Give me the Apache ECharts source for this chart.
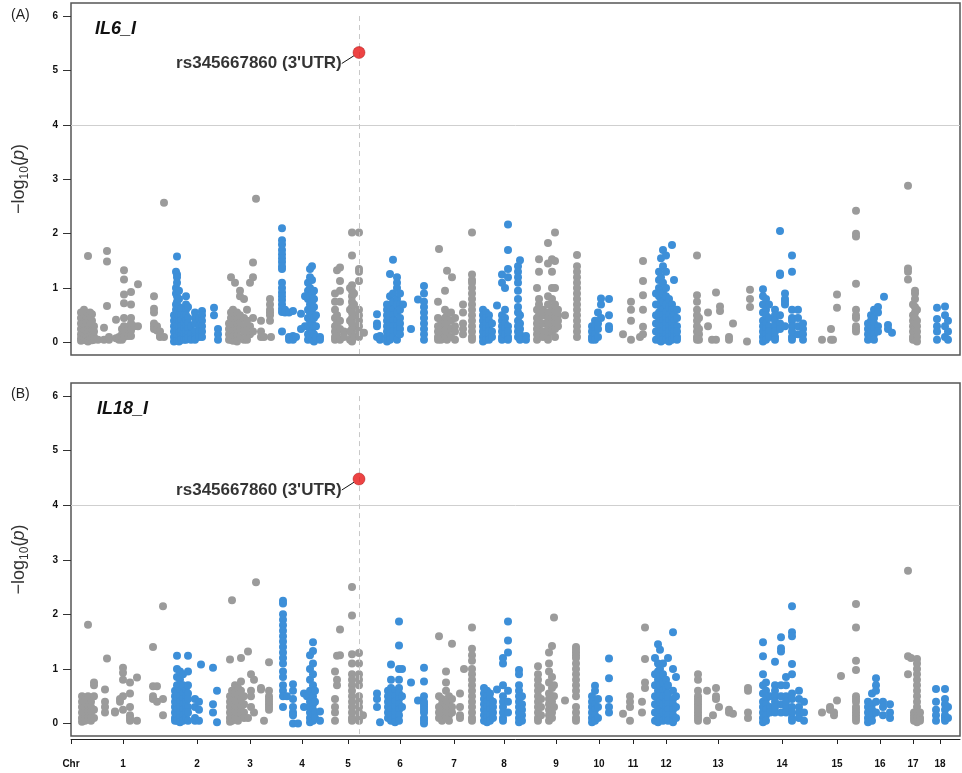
<!DOCTYPE html>
<html>
<head>
<meta charset="utf-8">
<script src="https://cdn.jsdelivr.net/npm/echarts@6/dist/echarts.min.js"></script>
<style>
  html, body { margin: 0; padding: 0; background: #fff; }
  #chart { width: 962px; height: 773px; }
</style>
</head>
<body>
<div id="chart"></div>
<script>
// chromosome layout (Mb)
var chrNames = ['1','2','3','4','5','6','7','8','9','10','11','12','13','14','15','16','17','18'];
var chrLen = [282,162,156,156,120,192,132,168,144,114,90,108,204,180,150,108,90,72];
var xMin = -15, xMax = 2652;
var yTicks = [0, 1, 2, 3, 4, 5, 6];
var threshold = 4;

// top SNP
var topSnpName = "rs345667860 (3'UTR)";
var topSnpChr = 5, topSnpPos = 93;
var topIL6 = 5.33, topIL18 = 4.48;

// IL6_I : per chromosome, [position (Mb), [-log10(p) of SNPs there]]
var il6Cols = [
  [[15,[0.55,0.45,0.35,0.25,0.15,0.08,0.03]],[24,[0.6,0.5,0.4,0.3,0.2,0.12,0.05]],[30,[0.45,0.35,0.28,0.18,0.1,0.04]],
   [36,[1.59,0.5,0.42,0.3,0.22,0.15,0.08,0.02]],[42,[0.55,0.48,0.36,0.26,0.16,0.1,0.05]],[48,[0.52,0.4,0.3,0.2,0.12,0.04]],
   [54,[0.3,0.2,0.1,0.05]],[66,[0.05]],[84,[0.27,0.05]],[93,[1.68,1.49,0.67]],[99,[0.05,0.1]],[120,[0.42,0.08]],
   [129,[0.1,0.05]],[138,[0.25,0.15,0.05]],[144,[1.33,1.16,0.88,0.72,0.45,0.3,0.2,0.1]],[156,[0.28,0.12]],
   [165,[0.93,0.7,0.45,0.35,0.22,0.12]],[174,[0.3]],[186,[1.07,0.3]],[234,[0.85,0.62,0.55,0.35,0.3,0.25]],
   [243,[0.3,0.22]],[252,[0.2,0.12,0.1]],[264,[2.57,0.1]]],
  [[12,[0.5,0.4,0.3,0.2,0.1,0.02]],[18,[1.3,1.0,0.9,0.7,0.6,0.5,0.45,0.35,0.25,0.15,0.05]],
   [21,[1.58,1.25,1.2,1.1,0.85,0.75,0.55,0.4,0.3,0.2,0.1,0.03]],[27,[0.95,0.8,0.65,0.5,0.38,0.28,0.18,0.08,0.02]],
   [33,[0.62,0.5,0.4,0.3,0.2,0.12,0.05]],[42,[0.5,0.35,0.25,0.15,0.05]],[48,[0.85,0.7,0.6,0.5,0.4,0.3,0.2,0.1,0.05]],
   [54,[0.65,0.45,0.35,0.25,0.15,0.08]],[63,[0.3,0.15,0.05]],[75,[0.55,0.45,0.35,0.2,0.1,0.05]],[87,[0.45,0.3,0.2,0.1]],
   [96,[0.58,0.5,0.4,0.3,0.2,0.1]],[132,[0.64,0.5]],[144,[0.25,0.15,0.05]]],
  [[15,[0.35,0.25,0.15,0.05]],[21,[1.2,0.55,0.45,0.35,0.25,0.15,0.05]],[27,[0.6,0.5,0.4,0.3,0.2,0.1,0.03]],
   [33,[1.1,0.48,0.38,0.28,0.18,0.08]],[39,[0.55,0.42,0.32,0.22,0.12,0.02]],[48,[0.95,0.85,0.5,0.35,0.25,0.1]],
   [60,[0.8,0.45,0.3,0.2,0.05]],[69,[0.6,0.4,0.28,0.15,0.05]],[78,[1.1,0.3,0.15]],[87,[1.47,1.2,0.45,0.2]],
   [96,[2.64]],[111,[0.4,0.2,0.1]],[120,[0.1]],[138,[0.8,0.7,0.6,0.55,0.5,0.4]],[141,[0.1]]],
  [[18,[2.1,1.88,1.8,1.7,1.62,1.55,1.48,1.4,1.35,1.1,1.0,0.92,0.85,0.78,0.7,0.62,0.56,0.2]],[27,[0.6,0.55]],
   [39,[0.55,0.1,0.05]],[51,[0.58,0.12,0.05]],[60,[0.1]],[75,[0.53,0.25]],[87,[0.85,0.3]],
   [96,[1.1,0.95,0.8,0.6,0.45,0.3,0.15,0.05]],[102,[1.35,1.2,1.0,0.85,0.7,0.55,0.4,0.25,0.1]],
   [108,[1.4,1.15,0.9,0.75,0.6,0.5,0.35,0.2,0.05]],[114,[0.95,0.8,0.65,0.45,0.3,0.15,0.02]],[120,[0.5,0.3,0.1]],
   [132,[0.1,0.05]]],
  [[21,[0.9,0.75,0.6,0.45,0.3,0.2,0.1,0.05]],[27,[1.33,0.5,0.35,0.15]],[36,[1.38,1.13,0.95,0.75,0.4,0.25,0.05]],
   [48,[0.2,0.1]],[66,[1.0,0.6,0.4,0.2,0.05]],[72,[2.02,1.6,1.05,0.95,0.85,0.75,0.65,0.55,0.45,0.35,0.25,0.15,0.05,0.02]],
   [78,[0.9,0.7,0.5,0.3,0.1]],[93,[2.02,1.35,1.3,1.13,0.6,0.5,0.4,0.3,0.2,0.1]],[108,[0.18]]],
  [[27,[0.52,0.35,0.3,0.1]],[36,[0.12,0.05]],[57,[0.7,0.6,0.5,0.4,0.3,0.2,0.1,0.02]],
   [66,[1.26,0.85,0.65,0.55,0.45,0.35,0.25,0.15,0.05]],[75,[1.52,0.9,0.75,0.6,0.5,0.4,0.3,0.2,0.1]],
   [87,[1.2,1.1,1.0,0.8,0.7,0.55,0.4,0.3,0.2,0.05]],[96,[0.9,0.7,0.6,0.45,0.35,0.25,0.15]],[105,[0.7]],
   [129,[0.25]],[150,[0.79]],[168,[1.04,0.9,0.75,0.65,0.55,0.45,0.35,0.25,0.15,0.05]]],
  [[18,[0.75,0.45,0.3,0.2,0.1,0.05]],[21,[1.72]],[27,[0.4,0.3,0.25,0.15,0.05]],[39,[0.95,0.6,0.45,0.35,0.2,0.1]],
   [45,[1.32,0.5,0.4,0.3,0.15,0.05]],[57,[0.55,0.4,0.25,0.1]],[60,[1.2]],[69,[0.45,0.3,0.2,0.05]],
   [93,[0.7,0.55,0.35,0.25,0.15]],[120,[2.02,1.25,1.15,1.1,1.0,0.9,0.8,0.7,0.6,0.5,0.4,0.3,0.2,0.1,0.05]]],
  [[21,[0.6,0.5,0.4,0.3,0.2,0.1,0.02]],[30,[0.55,0.45,0.35,0.25,0.15,0.05]],[39,[0.5,0.4,0.3,0.2,0.1,0.05]],
   [48,[0.35,0.2,0.1]],[63,[0.68]],[78,[1.25,1.1,0.5,0.4,0.3,0.2,0.1,0.05]],[87,[1.0,0.6,0.45,0.35,0.25,0.15]],
   [96,[2.17,1.7,1.35,1.2,0.3,0.2,0.1,0.05]],[126,[1.4,1.3,1.2,1.1,0.95,0.8,0.65,0.55,0.4,0.3,0.2,0.1]],
   [132,[1.51,0.5,0.35,0.25,0.15,0.05]],[150,[0.12,0.05]]],
  [[15,[1.0,0.6,0.45,0.35,0.25,0.15,0.05]],[21,[1.53,1.3,0.8,0.7,0.5,0.4,0.3,0.2,0.1]],[33,[0.6,0.5,0.35,0.2,0.1]],
   [48,[1.83,1.45,0.85,0.7,0.55,0.45,0.35,0.25,0.15,0.05]],[60,[1.53,1.3,1.0,0.8,0.6,0.5,0.4,0.3,0.2]],
   [69,[2.02,1.5,1.0,0.7,0.55,0.45,0.35,0.25,0.1]],[78,[0.6,0.5,0.4,0.3]],[99,[0.5]],
   [135,[1.61,1.4,1.3,1.2,1.1,1.0,0.9,0.8,0.7,0.6,0.5,0.4,0.3,0.2,0.1]]],
  [[36,[0.3,0.2,0.1,0.05]],[45,[0.4,0.3,0.2,0.15,0.05]],[54,[0.55,0.35,0.25,0.1]],[63,[0.81,0.7,0.45]],
   [87,[0.8,0.5,0.3,0.25]]],
  [[15,[0.15]],[39,[0.75,0.6,0.4,0.05]],[66,[0.1]],[75,[1.5,1.13,0.87,0.6,0.29,0.15]]],
  [[24,[0.9,0.7,0.5,0.35,0.2,0.05]],[33,[1.3,1.15,1.0,0.85,0.7,0.55,0.45,0.35,0.25,0.15,0.05]],
   [39,[1.55,1.2,0.95,0.8,0.65,0.5,0.4,0.3,0.2,0.1,0.02]],[45,[1.7,1.4,1.1,0.9,0.75,0.6,0.5,0.4,0.3,0.2,0.1,0.05]],
   [54,[1.6,1.3,1.0,0.85,0.7,0.55,0.45,0.35,0.25,0.15,0.05]],[63,[0.8,0.65,0.5,0.4,0.3,0.2,0.1,0.02]],
   [72,[1.79,0.7,0.6,0.45,0.35,0.25,0.15,0.05]],[78,[1.15,0.6,0.5,0.4,0.3,0.2,0.1]],[87,[0.6,0.45,0.3,0.2,0.1,0.05]]],
  [[39,[1.6,0.87,0.75,0.6,0.5,0.4,0.3,0.2,0.1,0.05]],[45,[0.45,0.25,0.15,0.05]],[72,[0.55,0.3]],[84,[0.05]],
   [96,[0.92,0.05]],[108,[0.66,0.58]],[135,[0.1,0.05]],[147,[0.35]],[189,[0.02]],[198,[0.97,0.8,0.65]]],
  [[33,[0.98,0.85,0.7,0.55,0.4,0.3,0.2,0.1,0.02]],[42,[0.8,0.6,0.5,0.35,0.25,0.15,0.05]],[51,[0.7,0.45,0.3,0.2,0.1]],
   [69,[0.6,0.5,0.4,0.3,0.2,0.1,0.05]],[84,[2.05,1.27,1.24,0.5,0.35,0.25]],[99,[0.9,0.8,0.75,0.7,0.3]],
   [120,[1.6,1.3,0.6,0.45,0.4,0.3,0.2,0.1,0.05]],[138,[0.6,0.45,0.3,0.15]],[153,[0.35,0.25,0.15,0.05]]],
  [[30,[0.05]],[57,[0.25,0.05]],[63,[0.05]],[75,[0.88,0.64]],[132,[2.42,2.0,1.95,1.08,0.6,0.5,0.45,0.3,0.25,0.2]]],
  [[18,[0.35,0.25,0.15,0.05]],[27,[0.5,0.4,0.3,0.2,0.1]],[36,[0.6,0.45,0.35,0.25,0.15,0.05]],[48,[0.65,0.55,0.3,0.2]],
   [66,[0.84]],[78,[0.32,0.25]],[90,[0.18]]],
  [[30,[2.88,1.36,1.3,1.16]],[45,[0.7,0.5,0.4,0.3,0.2,0.1,0.05]],[51,[0.95,0.9,0.8,0.65,0.55,0.45,0.35,0.25,0.15,0.05]],
   [57,[0.6,0.4,0.3,0.2,0.1,0.02]]],
  [[27,[0.64,0.43,0.3,0.2,0.05]],[51,[0.66,0.5,0.3,0.1]],[60,[0.4,0.2,0.05]]]
];

// IL18_I
var il18Cols = [
  [[18,[0.5,0.4,0.3,0.2,0.1,0.03]],[27,[0.45,0.35,0.25,0.15,0.05]],[36,[1.81,0.5,0.3,0.2,0.1]],[45,[0.4,0.3,0.2,0.1,0.05]],
   [54,[0.75,0.7,0.5,0.25,0.1]],[87,[0.62,0.4,0.3,0.2]],[93,[1.19]],[117,[0.22,0.2]],[132,[0.45,0.4]],
   [141,[1.02,0.93,0.8,0.5,0.25]],[162,[0.75,0.55,0.3,0.15,0.1,0.05]],[183,[0.84,0.05]],[231,[1.4,0.68,0.5,0.45]],
   [243,[0.68,0.4]],[261,[2.15,0.45,0.15]]],
  [[15,[0.6,0.5,0.4,0.3,0.2,0.1,0.05]],[21,[1.24,1.0,0.85,0.7,0.55,0.45,0.35,0.25,0.15,0.05]],
   [30,[0.95,0.8,0.6,0.5,0.4,0.3,0.2,0.1,0.02]],[39,[0.9,0.7,0.55,0.45,0.35,0.25,0.15,0.05]],[48,[0.6,0.5,0.4,0.3,0.2,0.1]],
   [54,[1.24,0.95,0.7,0.55,0.45,0.3,0.2,0.05]],[75,[0.45,0.3,0.1,0.05]],[87,[0.4,0.25,0.05]],[93,[1.08]],
   [129,[1.02,0.35,0.2]],[141,[0.6,0.02]]],
  [[18,[1.17,0.5,0.4,0.3,0.2,0.1,0.03]],[24,[2.26,0.6,0.45,0.35,0.25,0.15,0.05]],[33,[0.7,0.55,0.4,0.3,0.2,0.1]],
   [42,[0.65,0.5,0.35,0.25,0.15,0.05]],[51,[1.2,0.77,0.6,0.45,0.3,0.2]],[60,[0.5,0.35,0.2,0.1]],[72,[1.32,0.1]],
   [81,[0.9,0.6,0.5,0.3]],[90,[0.8,0.2]],[96,[2.59]],[111,[0.65,0.62]],[120,[0.05]],
   [135,[1.12,0.6,0.5,0.45,0.4,0.35,0.3,0.25]]],
  [[21,[2.25,2.2,2.0,1.9,1.8,1.7,1.6,1.5,1.4,1.3,1.2,1.1,0.95,0.85,0.7,0.6,0.5,0.3]],[33,[0.5]],
   [51,[0.72,0.6,0.45,0.3,0.2,0.15,0.0]],[66,[0.0]],[84,[0.55,0.3]],[93,[0.5]],
   [102,[1.25,1.0,0.8,0.6,0.4,0.3,0.2,0.1,0.02]],[111,[1.49,1.33,1.1,0.9,0.7,0.5,0.35,0.25,0.15,0.05]],
   [117,[0.6,0.4,0.2,0.1]],[132,[0.22,0.05]]],
  [[21,[0.95,0.45,0.3,0.2,0.05]],[27,[1.24,0.8,0.7]],[36,[1.72,1.25]],
   [72,[2.5,1.98,1.27,1.1,0.9,0.8,0.7,0.6,0.5,0.4,0.3,0.2,0.1,0.05]],
   [93,[1.29,1.1,0.9,0.8,0.7,0.5,0.4,0.3,0.2,0.1,0.05]],[105,[0.15]]],
  [[27,[0.55,0.45,0.3]],[36,[0.02]],[60,[0.6,0.5,0.4,0.3,0.2,0.1]],[69,[1.08,0.8,0.65,0.55,0.45,0.35,0.25,0.15,0.05]],
   [81,[0.6,0.5,0.4,0.3,0.2,0.1,0.02]],[93,[1.87,1.43,1.0,0.8,0.65,0.55,0.45,0.35,0.25,0.15,0.05]],[102,[1.0,0.5,0.3]],
   [129,[0.75]],[150,[0.42]],[168,[1.02,0.77,0.5,0.4,0.35,0.3,0.25,0.2,0.1,0.05,0.0]]],
  [[21,[1.6,0.5,0.3,0.2,0.1]],[30,[0.45,0.35,0.25,0.15,0.05]],[42,[0.95,0.75,0.6,0.4,0.3,0.2,0.1]],
   [51,[0.5,0.35,0.25,0.15,0.05]],[60,[1.46,0.45,0.3,0.2]],[84,[0.55,0.3,0.15,0.1]],[96,[1.0]],
   [120,[1.76,1.37,1.25,1.15,1.0,0.9,0.8,0.7,0.6,0.5,0.4,0.3,0.2,0.1,0.05]]],
  [[24,[0.65,0.55,0.45,0.35,0.25,0.15,0.05]],[33,[0.6,0.5,0.4,0.3,0.2,0.1,0.02]],[42,[0.55,0.45,0.35,0.25,0.15,0.05]],
   [51,[0.4,0.3,0.2,0.1]],[63,[0.62]],[81,[1.2,1.1,0.7,0.5,0.4,0.3,0.2,0.1,0.05]],[96,[1.87,1.52,1.3,0.6,0.4,0.2]],
   [129,[0.98,0.9,0.7,0.6,0.5,0.4,0.3,0.2,0.1,0.02]],[138,[0.5,0.35,0.25,0.15,0.05]]],
  [[18,[1.05,0.9,0.8,0.7,0.6,0.5,0.4,0.3,0.2,0.1,0.05]],[27,[0.65,0.45,0.3,0.15]],
   [51,[1.3,1.1,0.95,0.75,0.55,0.45,0.35,0.25,0.15,0.05]],[60,[1.42,0.85,0.65,0.5,0.4,0.3,0.2,0.1]],
   [66,[1.94,0.7,0.5,0.3]],[99,[0.42]],[132,[1.4,1.35,1.3,1.25,1.2,1.1,1.0,0.9,0.8,0.7,0.6,0.5,0.3,0.2,0.1,0.05]]],
  [[36,[0.5,0.4,0.3,0.2,0.1,0.02]],[45,[0.69,0.6,0.35,0.25,0.15,0.05]],[54,[0.45,0.3,0.1]],[87,[1.19,0.83,0.45,0.3,0.2]]],
  [[15,[0.18]],[36,[0.5,0.4,0.3,0.05]],[72,[0.4,0.2]],[81,[1.76,1.18,0.75,0.65]]],
  [[21,[1.2,0.9,0.7,0.5,0.35,0.2,0.05]],[30,[1.45,1.1,0.95,0.8,0.6,0.45,0.3,0.15,0.02]],
   [36,[1.35,1.0,0.85,0.7,0.55,0.4,0.25,0.1]],[45,[1.1,0.9,0.75,0.6,0.5,0.35,0.2,0.05]],[54,[0.8,0.65,0.5,0.4,0.3,0.2,0.1]],
   [60,[1.2,0.7,0.55,0.45,0.35,0.25,0.15,0.05]],[75,[1.67,1.0,0.6,0.45,0.35,0.25,0.15,0.05,0.02]],[84,[0.85,0.5,0.3,0.1]]],
  [[42,[0.9,0.8,0.6,0.5,0.45,0.4,0.35,0.3,0.25,0.2,0.15,0.1,0.05]],[69,[0.6,0.05]],[87,[0.15]],[96,[0.65,0.5,0.45]],
   [105,[0.3]],[135,[0.25,0.2]],[147,[0.18]],[192,[0.65,0.6,0.2,0.1]]],
  [[33,[1.49,1.23,0.9,0.7,0.55,0.4,0.3,0.2,0.1,0.02]],[42,[0.75,0.6,0.45,0.35,0.25,0.15,0.05]],[54,[0.5,0.3,0.2]],
   [69,[1.13,0.7,0.6,0.5,0.4,0.3,0.2]],[87,[1.58,1.38,1.32,0.7,0.5,0.35,0.2]],[102,[0.85,0.7,0.5,0.4,0.3,0.2]],
   [120,[2.15,1.67,1.6,1.09,0.9,0.55,0.45,0.3,0.2,0.1,0.05]],[141,[0.6,0.45,0.3,0.2,0.1]],[156,[0.4,0.2,0.05]]],
  [[30,[0.2]],[54,[0.3,0.25]],[66,[0.2,0.15]],[75,[0.42]],[87,[0.87]],
   [132,[2.19,1.76,1.15,0.98,0.5,0.45,0.4,0.3,0.25,0.2,0.15,0.1,0.05]]],
  [[18,[0.4,0.3,0.2,0.1,0.02]],[30,[0.55,0.35,0.25,0.15,0.05]],[42,[0.83,0.7,0.6,0.4,0.2]],[63,[0.4,0.3,0.15]],
   [84,[0.35,0.2,0.1]]],
  [[30,[2.8,1.23,0.9]],[39,[1.2]],[48,[0.2,0.15,0.1,0.05]],
   [57,[1.18,1.1,1.0,0.9,0.8,0.7,0.6,0.5,0.4,0.3,0.2,0.15,0.1,0.05,0.02]],[66,[0.2,0.1,0.05]]],
  [[24,[0.63,0.4,0.25,0.15,0.05]],[51,[0.63,0.45,0.35,0.25,0.15,0.1,0.05]],[60,[0.3,0.1]]]
];

var chrStart = [];
var acc = 0;
chrLen.forEach(function (l) { chrStart.push(acc); acc += l; });
var tickPos = [xMin].concat(chrLen.map(function (l, i) { return chrStart[i] + l / 2; }));
var tickText = ['Chr'].concat(chrNames);

// 拆成灰/蓝两组
function split(cols) {
    var gray = [], blue = [];
    cols.forEach(function (chr, i) {
        chr.forEach(function (c) {
            c[1].forEach(function (v) {
                (i % 2 === 0 ? gray : blue).push([chrStart[i] + c[0], v]);
            });
        });
    });
    return { gray: gray, blue: blue };
}
var a = split(il6Cols), b = split(il18Cols);
var snpX = chrStart[topSnpChr - 1] + topSnpPos;
var yMin = -0.23, yMax = 6.24;

var font = "'Liberation Sans', Arial, sans-serif";
var grids = [
    { left: 71, top: 3, width: 889, height: 352 },
    { left: 71, top: 383, width: 889, height: 353 }
];
grids.forEach(function (g) { g.show = true; g.borderColor = '#555'; g.borderWidth = 1.5; });

function yAxis(idx) {
    return {
        type: 'value', gridIndex: idx, min: yMin, max: yMax,
        name: '{a|\u2212log}{s|10}{a|(}{p|p}{a|)}',
        nameLocation: 'middle', nameGap: 40,
        nameTextStyle: {
            fontFamily: font,
            rich: {
                a: { fontSize: 18, color: '#333', lineHeight: 24, fontFamily: font },
                s: { fontSize: 12, color: '#333', lineHeight: 13, verticalAlign: 'bottom', fontFamily: font },
                p: { fontSize: 18, color: '#333', lineHeight: 24, fontStyle: 'italic', fontFamily: font }
            }
        },
        axisLine: { show: false, onZero: false },
        axisTick: { show: true, length: 8, customValues: yTicks, lineStyle: { color: '#333' } },
        axisLabel: { customValues: yTicks, margin: 13, fontSize: 10, fontWeight: 'bold', color: '#111', fontFamily: font },
        splitLine: { show: false }
    };
}

function xAxis(idx, showLabels) {
    return {
        type: 'value', gridIndex: idx, min: xMin, max: xMax, offset: showLabels ? 3 : 0,
        axisLine: { show: showLabels, onZero: false, lineStyle: { color: '#222', width: 1 } },
        axisTick: { show: showLabels, length: 5, customValues: tickPos, lineStyle: { color: '#222' } },
        axisLabel: {
            show: showLabels, customValues: tickPos, margin: 20, fontSize: 10, fontWeight: 'bold',
            color: '#111', fontFamily: font,
            formatter: function (v) {
                for (var i = 0; i < tickPos.length; i++) {
                    if (Math.abs(tickPos[i] - v) < 0.5) return tickText[i];
                }
                return '';
            }
        },
        splitLine: { show: false }
    };
}

function dots(data, idx, color) {
    return {
        type: 'scatter', xAxisIndex: idx, yAxisIndex: idx, data: data,
        symbolSize: 8, itemStyle: { color: color, opacity: 1 }, silent: true, z: 3
    };
}

function guides(idx) {
    return {
        type: 'scatter', xAxisIndex: idx, yAxisIndex: idx, data: [], z: 1,
        markLine: {
            silent: true, symbol: 'none', label: { show: false },
            data: [
                { yAxis: threshold, lineStyle: { color: '#cfcfcf', type: 'solid', width: 1 } },
                [{ coord: [snpX, 6] }, { coord: [snpX, yMin] }]
            ],
            lineStyle: { color: '#c8c8c8', type: [5, 4], width: 1 }
        }
    };
}

function topSnp(idx, val) {
    return {
        type: 'scatter', xAxisIndex: idx, yAxisIndex: idx, z: 5,
        data: [{ name: topSnpName, value: [snpX, val] }],
        symbolSize: 12,
        itemStyle: { color: '#e81414', borderColor: '#900', borderWidth: 0.5 },
        label: {
            show: true, position: 'left', distance: 5, formatter: '{b}',
            fontSize: 17, fontWeight: 'bold', color: '#000', fontFamily: font
        },
        labelLayout: { dx: -6, dy: 11 },
        labelLine: { show: true, lineStyle: { color: '#111', width: 1 } }
    };
}

var myChart = echarts.init(document.getElementById('chart'));
var option = {
    backgroundColor: '#fff',
    animation: false,
    title: [
        { text: '(A)', left: 6, top: 3, textStyle: { fontSize: 14, fontWeight: 'normal', color: '#222', fontFamily: font } },
        { text: 'IL6_I', left: 90, top: 15, textStyle: { fontSize: 18, fontWeight: 'bold', fontStyle: 'italic', color: '#111', fontFamily: font } },
        { text: '(B)', left: 6, top: 382, textStyle: { fontSize: 14, fontWeight: 'normal', color: '#222', fontFamily: font } },
        { text: 'IL18_I', left: 92, top: 395, textStyle: { fontSize: 18, fontWeight: 'bold', fontStyle: 'italic', color: '#111', fontFamily: font } }
    ],
    grid: grids,
    xAxis: [xAxis(0, false), xAxis(1, true)],
    yAxis: [yAxis(0), yAxis(1)],
    series: [
        guides(0), guides(1),
        dots(a.gray, 0, '#9b9b9b'), dots(a.blue, 0, '#3d8fd8'),
        dots(b.gray, 1, '#9b9b9b'), dots(b.blue, 1, '#3d8fd8'),
        topSnp(0, topIL6), topSnp(1, topIL18)
    ]
};
myChart.setOption(option);
</script>
</body>
</html>
